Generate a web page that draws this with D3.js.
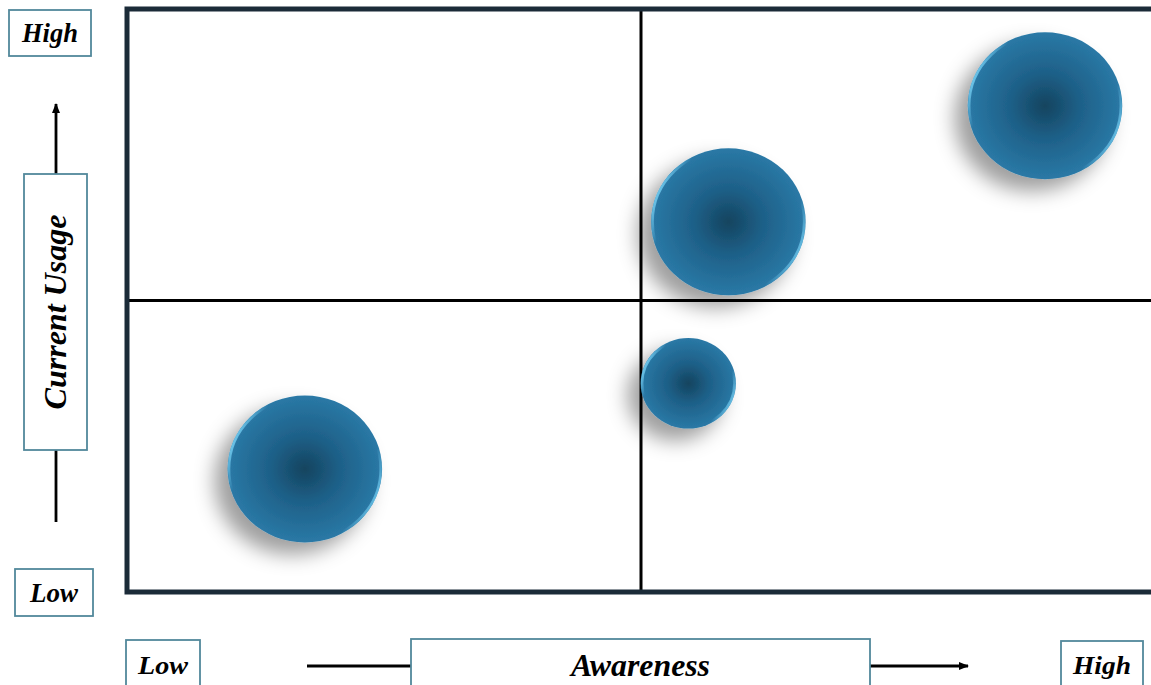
<!DOCTYPE html>
<html>
<head>
<meta charset="utf-8">
<script src="https://cdn.jsdelivr.net/npm/d3@7"></script>
<style>
  html, body { margin: 0; padding: 0; background: #ffffff; }
  svg { display: block; }
  .lbl { font-family: "Liberation Serif", "Times New Roman", serif; font-weight: bold; font-style: italic; fill: #000; }
</style>
</head>
<body>
<svg id="chart" width="1151" height="685"></svg>
<script>
// Bubble positions on a 0–10 awareness / usage grid, with relative bubble size
const names     = ["A", "B", "C", "D"];
const awareness = [8.93, 5.85, 5.46, 1.73];
const usage     = [8.34, 6.35, 3.58, 2.11];
const sizes     = [100, 100, 38, 100];

const axisLow  = "Low";
const axisHigh = "High";
const xTitle   = "Awareness";
const yTitle   = "Current Usage";

const svg = d3.select("#chart");

const x = d3.scaleLinear().domain([0, 10]).range([127, 1155]);
const y = d3.scaleLinear().domain([0, 10]).range([592, 9]);
const r = d3.scaleSqrt().domain([0, 100]).range([0, 75]);

const defs = svg.append("defs");

// soft drop shadow falling down and to the left
const shadow = defs.append("filter").attr("id", "shadow")
  .attr("x", "-50%").attr("y", "-50%").attr("width", "200%").attr("height", "200%");
shadow.append("feGaussianBlur").attr("in", "SourceAlpha").attr("stdDeviation", 10).attr("result", "blur");
shadow.append("feOffset").attr("in", "blur").attr("dx", -13).attr("dy", 12).attr("result", "off");
shadow.append("feFlood").attr("flood-color", "#000").attr("flood-opacity", 0.38).attr("result", "col");
shadow.append("feComposite").attr("in", "col").attr("in2", "off").attr("operator", "in").attr("result", "sh");
const merge = shadow.append("feMerge");
merge.append("feMergeNode").attr("in", "sh");
merge.append("feMergeNode").attr("in", "SourceGraphic");

// bubble body: darker core fading to a brighter blue rim
const fill = defs.append("radialGradient").attr("id", "bubbleFill")
  .attr("cx", "50%").attr("cy", "50%").attr("r", "50%");
fill.append("stop").attr("offset", "0%").attr("stop-color", "#14445f");
fill.append("stop").attr("offset", "45%").attr("stop-color", "#1e6088");
fill.append("stop").attr("offset", "100%").attr("stop-color", "#2a79a6");

// glossy edge highlight on the left and right rims
const rim = defs.append("linearGradient").attr("id", "bubbleRim")
  .attr("x1", "0%").attr("y1", "30%").attr("x2", "100%").attr("y2", "70%");
rim.append("stop").attr("offset", "0%").attr("stop-color", "#7fdcff").attr("stop-opacity", 0.95);
rim.append("stop").attr("offset", "14%").attr("stop-color", "#7fdcff").attr("stop-opacity", 0);
rim.append("stop").attr("offset", "86%").attr("stop-color", "#7fdcff").attr("stop-opacity", 0);
rim.append("stop").attr("offset", "100%").attr("stop-color", "#7fdcff").attr("stop-opacity", 0.8);

// arrow marker
defs.append("marker").attr("id", "arrow")
  .attr("viewBox", "0 0 10 10").attr("refX", 9).attr("refY", 5)
  .attr("markerWidth", 3.6).attr("markerHeight", 3.6).attr("orient", "auto")
  .append("path").attr("d", "M0,1 L10,5 L0,9 Z").attr("fill", "#000");

// quadrant dividers
svg.append("line")
  .attr("x1", x(5)).attr("x2", x(5)).attr("y1", y(10)).attr("y2", y(0))
  .attr("stroke", "#000").attr("stroke-width", 3);
svg.append("line")
  .attr("x1", x(0)).attr("x2", x(10)).attr("y1", y(5)).attr("y2", y(5))
  .attr("stroke", "#000").attr("stroke-width", 3);

// bubbles
const data = names.map((n, i) => ({ name: n, ax: awareness[i], us: usage[i], size: sizes[i] }));
const g = svg.append("g");
g.selectAll("ellipse.bubble").data(data).join("ellipse")
  .attr("class", "bubble")
  .attr("cx", d => x(d.ax)).attr("cy", d => y(d.us))
  .attr("rx", d => r(d.size) * 1.03).attr("ry", d => r(d.size) * 0.98)
  .attr("fill", "url(#bubbleFill)")
  .attr("filter", "url(#shadow)");
g.selectAll("ellipse.rim").data(data).join("ellipse")
  .attr("class", "rim")
  .attr("cx", d => x(d.ax)).attr("cy", d => y(d.us))
  .attr("rx", d => r(d.size) * 1.03 - 1.5).attr("ry", d => r(d.size) * 0.98 - 1.5)
  .attr("fill", "none").attr("stroke", "url(#bubbleRim)").attr("stroke-width", 2.5);

// plot frame
svg.append("rect")
  .attr("x", x(0)).attr("y", y(10))
  .attr("width", x(10) - x(0)).attr("height", y(0) - y(10))
  .attr("fill", "none").attr("stroke", "#1b2b38").attr("stroke-width", 5);

// labelled boxes
const boxStroke = "#52889b";
function labelBox(bx, by, bw, bh, text, size, rotate, len) {
  svg.append("rect").attr("x", bx).attr("y", by).attr("width", bw).attr("height", bh)
    .attr("fill", "#fff").attr("stroke", boxStroke).attr("stroke-width", 1.8);
  const cx = bx + bw / 2, cy = by + bh / 2;
  const t = svg.append("text").attr("class", "lbl")
    .attr("x", cx).attr("y", cy)
    .attr("text-anchor", "middle").attr("dominant-baseline", "central")
    .attr("font-size", size).text(text);
  if (len) t.attr("textLength", len).attr("lengthAdjust", "spacingAndGlyphs");
  if (rotate) t.attr("transform", `rotate(-90 ${cx} ${cy})`);
}

// vertical (usage) axis
svg.append("line").attr("x1", 56).attr("x2", 56).attr("y1", 174).attr("y2", 104)
  .attr("stroke", "#000").attr("stroke-width", 2.8).attr("marker-end", "url(#arrow)");
svg.append("line").attr("x1", 56).attr("x2", 56).attr("y1", 450).attr("y2", 522)
  .attr("stroke", "#000").attr("stroke-width", 2.8);
labelBox(9, 10, 82, 46, axisHigh, 27, false, 56);
labelBox(15, 569, 78, 47, axisLow, 27, false, 48);
labelBox(24, 174, 63, 276, yTitle, 31, true, 195);

// horizontal (awareness) axis
svg.append("line").attr("x1", 307).attr("x2", 411).attr("y1", 666).attr("y2", 666)
  .attr("stroke", "#000").attr("stroke-width", 2.8);
svg.append("line").attr("x1", 870).attr("x2", 968).attr("y1", 666).attr("y2", 666)
  .attr("stroke", "#000").attr("stroke-width", 2.8).attr("marker-end", "url(#arrow)");
labelBox(126, 640, 74, 50, axisLow, 26, false, 50);
labelBox(411, 639, 459, 52, xTitle, 31, false, 139);
labelBox(1061, 641, 82, 49, axisHigh, 26, false, 58);
</script>
</body>
</html>
